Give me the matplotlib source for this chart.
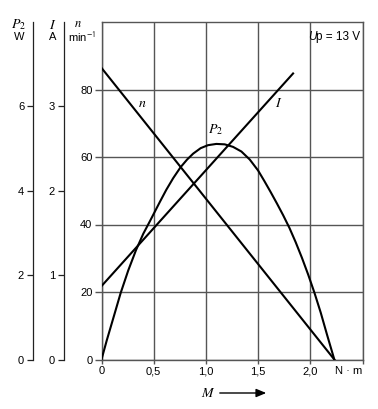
import matplotlib
matplotlib.use("Agg")
import matplotlib.pyplot as plt

plt.rcParams['font.family'] = ['Liberation Sans', 'DejaVu Sans']
plt.rcParams['mathtext.fontset'] = 'stix'

# ---- data ----
# speed n (main axis units) vs torque M (N·m)
n_M = [0.0, 2.23]
n_val = [86.4, 0.0]
# current I (A)
I_M = [0.0, 1.835]
I_val = [0.87, 3.39]
# output power P2 (W)
P2_M = [0.0, 0.05, 0.113, 0.184, 0.256, 0.33, 0.40, 0.464, 0.56, 0.62, 0.687,
        0.758, 0.82, 0.878, 0.95, 1.02, 1.10, 1.18, 1.26, 1.34, 1.42, 1.5,
        1.56, 1.62, 1.68, 1.74, 1.80, 1.86, 1.92, 1.98, 2.04, 2.1, 2.16, 2.23]
P2_val = [0.0, 0.45, 0.98, 1.58, 2.11, 2.59, 2.98, 3.28, 3.74, 4.02, 4.3,
          4.56, 4.74, 4.88, 5.01, 5.08, 5.11, 5.1, 5.04, 4.93, 4.74, 4.48,
          4.23, 3.97, 3.70, 3.42, 3.12, 2.78, 2.41, 2.01, 1.58, 1.11, 0.59, 0.0]

x_ticks = [0, 0.5, 1.0, 1.5, 2.0, 2.5]
x_ticklabels = ['0', '0,5', '1,0', '1,5', '2,0', 'N · m']
n_ticks = [0, 20, 40, 60, 80]
I_ticks = [0, 1, 2, 3]
P2_ticks = [0, 2, 4, 6]

W, H = 378, 409
fig = plt.figure(figsize=(W / 100, H / 100), dpi=100)
ax = fig.add_axes([101.5 / W, (H - 359.5) / H, 261 / W, 337.5 / H])

grid_c = '#555555'
ax.set_xlim(0, 2.5)
ax.set_ylim(0, 100)
ax.set_xticks(x_ticks)
ax.set_xticklabels(x_ticklabels)
ax.set_yticks(n_ticks)
for lab in ax.get_xticklabels():
    if lab.get_text() == 'N · m':
        lab.set_horizontalalignment('right')
ax.grid(True, color=grid_c, lw=1.0)
ax.set_axisbelow(True)
for s in ax.spines.values():
    s.set_color(grid_c)
    s.set_linewidth(1.0)
ax.tick_params(axis='both', labelsize=8, color=grid_c, width=1.0)
ax.tick_params(axis='y', length=5, pad=1.5)
ax.tick_params(axis='x', length=3, pad=2)

# n line on main axis
ax.plot(n_M, n_val, color='black', lw=1.5, zorder=3)

def side_axis(offset_pt, ylim, ticks):
    a = ax.twinx()
    a.set_ylim(*ylim)
    for k in ['right', 'top', 'bottom']:
        a.spines[k].set_visible(False)
    a.spines['left'].set_visible(True)
    a.spines['left'].set_position(('outward', offset_pt))
    a.spines['left'].set_color('#222222')
    a.spines['left'].set_linewidth(0.9)
    a.yaxis.set_ticks_position('left')
    a.yaxis.set_label_position('left')
    a.set_yticks(ticks)
    a.tick_params(axis='y', labelsize=8, length=4, pad=2, color='#222222', width=0.9)
    a.set_xlim(0, 2.5)
    return a

axP = side_axis(69 / 1.389, (0, 8), P2_ticks)
axI = side_axis(38 / 1.389, (0, 4), I_ticks)

axI.plot(I_M, I_val, color='black', lw=1.5)
axP.plot(P2_M, P2_val, color='black', lw=1.5, solid_joinstyle='round')

# curve labels
ax.text(0.39, 76, r'$n$', fontsize=10, ha='center', va='center')
ax.text(1.70, 76, r'$I$', fontsize=10, ha='center', va='center')
ax.text(1.09, 68, r'$P_2$', fontsize=10, ha='center', va='center')

# Up = 13 V
tU = ax.text(0.79, 0.972, 'U', transform=ax.transAxes, fontsize=8.5,
             style='italic', ha='left', va='top')
ax.annotate('p = 13 V', xy=(1, 0), xycoords=tU, fontsize=8.5,
            ha='left', va='bottom')

# axis headers
def ftext(x, y, s, **kw):
    fig.text(x / W, 1 - y / H, s, ha='center', va='center', **kw)

ftext(19, 25, r'$P_2$', fontsize=10)
ftext(19, 37, 'W', fontsize=8)
ftext(53, 25, r'$I$', fontsize=10)
ftext(53, 37, 'A', fontsize=8)
ftext(78, 24, r'$n$', fontsize=9)
ftext(82, 38, r'min$^{\mathsf{-1}}$', fontsize=8)

# M arrow
ftext(208, 393, r'$M$', fontsize=10)
fig.add_artist(matplotlib.patches.FancyArrowPatch(
    (217 / W, 1 - 393 / H), (269 / W, 1 - 393 / H), transform=fig.transFigure,
    arrowstyle='-|>,head_length=6,head_width=2.5', color='black', lw=1.0,
    mutation_scale=1))

fig.savefig('out.png', dpi=100)
